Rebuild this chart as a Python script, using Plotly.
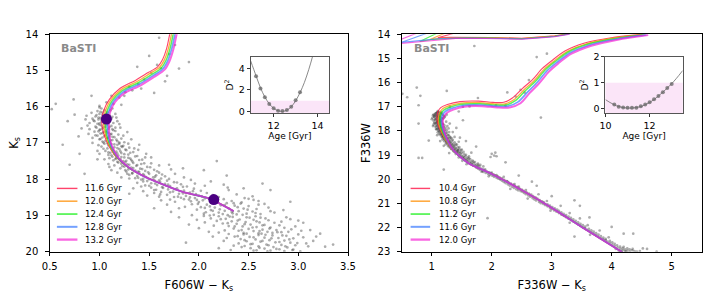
import plotly.graph_objects as go

# ---------------- DATA ----------------
legend_left = ["11.6 Gyr", "12.0 Gyr", "12.4 Gyr", "12.8 Gyr", "13.2 Gyr"]
legend_right = ["10.4 Gyr", "10.8 Gyr", "11.2 Gyr", "11.6 Gyr", "12.0 Gyr"]

# left panel isochrones (F606W-Ks, Ks)
isoL_a_x = [1.71, 1.675, 1.635, 1.585, 1.49, 1.365, 1.205, 1.10, 1.045, 1.025, 1.027, 1.05, 1.095, 1.172, 1.286, 1.42, 1.60, 1.85, 2.10, 2.35]
isoL_a_y = [13.95, 14.40, 14.70, 14.90, 15.06, 15.27, 15.50, 15.80, 16.09, 16.31, 16.55, 16.80, 17.08, 17.40, 17.67, 17.88, 18.10, 18.36, 18.53, 18.88]
isoL_b_x = [1.728, 1.693, 1.653, 1.603, 1.505, 1.378, 1.218, 1.115, 1.063, 1.043, 1.045, 1.063, 1.103, 1.176, 1.288, 1.42, 1.60, 1.85, 2.10, 2.35]
isoL_b_y = [13.95, 14.40, 14.71, 14.92, 15.09, 15.305, 15.53, 15.815, 16.09, 16.31, 16.55, 16.80, 17.08, 17.40, 17.67, 17.88, 18.10, 18.36, 18.53, 18.88]
isoL_c_x = [1.745, 1.71, 1.67, 1.62, 1.52, 1.39, 1.23, 1.13, 1.08, 1.06, 1.062, 1.075, 1.11, 1.18, 1.29, 1.42, 1.60, 1.85, 2.10, 2.35]
isoL_c_y = [13.95, 14.40, 14.72, 14.94, 15.12, 15.34, 15.56, 15.83, 16.09, 16.31, 16.55, 16.80, 17.08, 17.40, 17.67, 17.88, 18.10, 18.36, 18.53, 18.88]
isoL_d_x = [1.763, 1.727, 1.687, 1.637, 1.535, 1.402, 1.242, 1.145, 1.098, 1.078, 1.08, 1.088, 1.118, 1.184, 1.292, 1.42, 1.60, 1.85, 2.10, 2.35]
isoL_d_y = [13.95, 14.40, 14.73, 14.96, 15.15, 15.375, 15.59, 15.845, 16.09, 16.31, 16.55, 16.80, 17.08, 17.40, 17.67, 17.88, 18.10, 18.36, 18.53, 18.88]
isoL_e_x = [1.78, 1.745, 1.705, 1.655, 1.55, 1.415, 1.255, 1.16, 1.115, 1.095, 1.097, 1.10, 1.125, 1.188, 1.294, 1.42, 1.60, 1.85, 2.10, 2.35]
isoL_e_y = [13.95, 14.40, 14.74, 14.98, 15.18, 15.41, 15.62, 15.86, 16.09, 16.31, 16.55, 16.80, 17.08, 17.40, 17.67, 17.88, 18.10, 18.36, 18.53, 18.88]

# right panel isochrones (F336W-Ks, F336W)
isoR_a_x = [4.50, 3.99, 3.55, 3.22, 3.00, 2.84, 2.68, 2.51, 2.35, 2.20, 2.02, 1.78, 1.47, 1.26, 1.15, 1.10, 1.085, 1.10, 1.15, 1.23, 1.34, 1.455, 1.62, 2.00, 2.50, 3.00, 3.55, 4.18]
isoR_a_y = [14.00, 14.15, 14.37, 14.70, 15.10, 15.43, 15.88, 16.25, 16.63, 16.82, 16.82, 16.77, 16.79, 16.91, 17.04, 17.22, 17.46, 17.71, 18.02, 18.38, 18.77, 19.05, 19.35, 19.78, 20.45, 21.18, 22.05, 23.02]
isoR_b_x = [4.52, 4.02, 3.58, 3.25, 3.03, 2.87, 2.71, 2.54, 2.38, 2.22, 2.04, 1.79, 1.49, 1.28, 1.18, 1.13, 1.11, 1.12, 1.165, 1.24, 1.345, 1.458, 1.62, 2.00, 2.50, 3.00, 3.55, 4.18]
isoR_b_y = [14.01, 14.17, 14.40, 14.73, 15.13, 15.46, 15.92, 16.30, 16.69, 16.88, 16.88, 16.83, 16.85, 16.97, 17.09, 17.26, 17.49, 17.74, 18.04, 18.39, 18.78, 19.05, 19.35, 19.78, 20.45, 21.18, 22.05, 23.02]
isoR_c_x = [4.55, 4.04, 3.60, 3.27, 3.05, 2.89, 2.73, 2.56, 2.40, 2.24, 2.05, 1.80, 1.50, 1.30, 1.20, 1.15, 1.135, 1.145, 1.18, 1.25, 1.35, 1.46, 1.62, 2.00, 2.50, 3.00, 3.55, 4.18]
isoR_c_y = [14.02, 14.19, 14.42, 14.75, 15.15, 15.48, 15.95, 16.34, 16.74, 16.93, 16.93, 16.88, 16.90, 17.02, 17.14, 17.30, 17.52, 17.76, 18.05, 18.40, 18.78, 19.05, 19.35, 19.78, 20.45, 21.18, 22.05, 23.02]
isoR_d_x = [4.58, 4.07, 3.63, 3.30, 3.08, 2.92, 2.76, 2.60, 2.44, 2.27, 2.07, 1.82, 1.52, 1.33, 1.23, 1.18, 1.16, 1.17, 1.20, 1.26, 1.355, 1.462, 1.62, 2.00, 2.50, 3.00, 3.55, 4.18]
isoR_d_y = [14.03, 14.21, 14.45, 14.78, 15.18, 15.52, 15.99, 16.39, 16.80, 16.98, 16.98, 16.93, 16.95, 17.07, 17.19, 17.34, 17.55, 17.78, 18.06, 18.41, 18.79, 19.05, 19.35, 19.78, 20.45, 21.18, 22.05, 23.02]
isoR_e_x = [4.61, 4.10, 3.66, 3.33, 3.11, 2.95, 2.79, 2.63, 2.48, 2.30, 2.09, 1.84, 1.54, 1.36, 1.26, 1.21, 1.185, 1.19, 1.215, 1.27, 1.36, 1.465, 1.62, 2.00, 2.50, 3.00, 3.55, 4.18]
isoR_e_y = [14.04, 14.23, 14.48, 14.81, 15.21, 15.56, 16.03, 16.44, 16.86, 17.03, 17.03, 16.98, 17.00, 17.12, 17.24, 17.38, 17.58, 17.80, 18.08, 18.42, 18.80, 19.05, 19.35, 19.78, 20.45, 21.18, 22.05, 23.02]

# right panel: post-RGB branches crossing the top edge
topR_a_x = [1.36, 1.10, 1.30, 1.60, 2.00, 2.50, 2.80, 3.05, 3.30]
topR_a_y = [13.97, 14.15, 14.13, 14.13, 14.14, 14.17, 14.12, 14.07, 13.97]
topR_b_x = [1.21, 0.97, 1.20, 1.60, 2.00, 2.50, 2.80, 3.05, 3.30]
topR_b_y = [13.97, 14.22, 14.16, 14.14, 14.15, 14.18, 14.13, 14.08, 13.97]
topR_c_x = [1.08, 0.80, 1.00, 1.30, 1.60, 2.00, 2.50, 2.80, 3.05, 3.30]
topR_c_y = [13.97, 14.30, 14.22, 14.17, 14.15, 14.16, 14.19, 14.14, 14.09, 13.98]
topR_d_x = [0.91, 0.55, 0.50, 0.80, 1.10, 1.40, 1.70, 2.00, 2.50, 2.80, 3.05, 3.30]
topR_d_y = [13.97, 14.30, 14.34, 14.27, 14.19, 14.16, 14.16, 14.17, 14.20, 14.15, 14.10, 13.99]
topR_e_x = [0.74, 0.48, 0.50, 0.80, 1.10, 1.40, 1.70, 2.00, 2.50, 2.80, 3.05, 3.30]
topR_e_y = [13.97, 14.22, 14.38, 14.31, 14.22, 14.18, 14.17, 14.18, 14.21, 14.16, 14.11, 14.00]

# fiducial points on the left panel
fidL_x = [1.07, 2.15]
fidL_y = [16.34, 18.56]

# stars, left panel
starsL = [
 (1.60,14.10),(1.90,14.77),(1.62,14.94),(1.52,15.07),(1.39,15.38),(1.26,15.60),(0.74,15.80),(0.56,15.92),(0.52,16.07),(0.75,16.22),
 (1.33,15.55),(1.07,15.88),(1.14,15.92),(1.70,14.55),(1.45,15.25),(1.58,14.85),(1.20,15.75),(1.30,15.45),(1.66,15.30),(1.22,15.95),
 (1.55,15.62),(1.00,15.98),(0.92,15.70),(1.12,15.70),(1.76,14.30),
 (1.02,16.05),(1.05,16.10),(0.98,16.12),(1.08,16.15),(1.00,16.20),(1.03,16.22),(1.10,16.24),(0.96,16.27),(1.06,16.29),(1.01,16.31),
 (1.12,16.33),(0.99,16.35),(1.04,16.37),(1.09,16.38),(0.95,16.40),(1.02,16.42),(1.07,16.44),(1.14,16.45),(0.98,16.47),(1.05,16.48),
 (1.00,16.50),(0.93,16.33),(1.16,16.20),(1.11,16.10),(0.90,16.45),(1.18,16.40),(0.87,16.25),(1.20,16.48),(1.03,16.16),(1.08,16.27),
 (1.02,16.52),(1.06,16.55),(1.10,16.56),(0.97,16.58),(1.03,16.60),(1.13,16.62),(1.00,16.64),(1.07,16.66),(1.16,16.67),(0.95,16.69),
 (1.04,16.70),(1.09,16.72),(1.01,16.74),(1.12,16.75),(1.19,16.77),(1.06,16.78),(0.98,16.80),(1.10,16.82),(1.15,16.84),(1.03,16.85),
 (1.08,16.87),(1.22,16.88),(1.00,16.90),(1.13,16.92),(1.06,16.94),(1.18,16.95),(1.10,16.97),(1.25,16.98),(0.93,16.86),(1.28,16.70),
 (0.90,16.62),(1.32,16.90),(1.04,16.99),(1.16,16.58),(0.79,16.82),
 (1.05,17.02),(1.12,17.03),(1.18,17.05),(1.09,17.07),(1.24,17.08),(1.02,17.10),(1.15,17.12),(1.30,17.13),(1.08,17.15),(1.20,17.17),
 (1.13,17.19),(1.27,17.20),(1.06,17.22),(1.17,17.24),(1.34,17.25),(1.11,17.27),(1.22,17.28),(1.15,17.30),(1.29,17.32),(1.09,17.33),
 (1.19,17.35),(1.38,17.36),(1.13,17.38),(1.25,17.40),(1.17,17.42),(1.31,17.43),(1.21,17.45),(1.43,17.46),(1.14,17.48),(1.27,17.49),
 (1.35,17.15),(1.00,17.30),(1.47,17.30),(0.98,17.45),(1.40,17.05),(1.23,17.11),(1.32,17.47),(1.52,17.40),(1.10,17.42),(1.20,17.02),
 (1.18,17.52),(1.26,17.53),(1.34,17.55),(1.22,17.57),(1.42,17.58),(1.30,17.60),(1.15,17.62),(1.37,17.63),(1.25,17.65),(1.48,17.66),
 (1.32,17.68),(1.21,17.70),(1.41,17.71),(1.29,17.73),(1.55,17.74),(1.36,17.76),(1.46,17.77),(1.27,17.79),(1.40,17.80),(1.60,17.82),
 (1.33,17.83),(1.50,17.85),(1.44,17.86),(1.30,17.88),(1.57,17.89),(1.38,17.91),(1.66,17.92),(1.47,17.94),(1.54,17.95),(1.36,17.97),
 (1.62,17.98),(1.70,17.60),(1.12,17.75),(1.76,17.85),(1.22,17.95),(1.09,17.58),(1.52,17.56),(1.44,17.99),(1.84,17.70),(1.28,17.85),
 (1.42,18.01),(1.55,18.02),(1.68,18.04),(1.48,18.05),(1.61,18.07),(1.75,18.08),(1.38,18.10),(1.52,18.11),(1.66,18.13),(1.82,18.14),
 (1.58,18.16),(1.46,18.17),(1.71,18.19),(1.88,18.20),(1.63,18.22),(1.52,18.23),(1.78,18.25),(1.95,18.26),(1.69,18.28),(1.57,18.29),
 (1.85,18.31),(2.02,18.32),(1.74,18.34),(1.62,18.35),(1.91,18.37),(2.08,18.38),(1.80,18.40),(1.97,18.41),(1.68,18.43),(2.14,18.44),
 (1.87,18.46),(2.03,18.47),(1.75,18.49),(2.20,18.49),(1.34,18.25),(2.25,18.15),(1.30,18.40),(2.12,18.06),(1.96,18.12),(1.48,18.45),
 (2.30,18.30),(1.92,18.02),(1.60,18.48),(2.38,18.42),(1.44,18.33),
 (1.82,18.51),(1.96,18.52),(2.10,18.53),(2.25,18.55),(1.90,18.56),(2.04,18.58),(2.18,18.59),(2.33,18.60),(1.76,18.62),(2.00,18.63),
 (2.14,18.65),(2.28,18.66),(2.42,18.67),(1.93,18.69),(2.08,18.70),(2.22,18.72),(2.36,18.73),(2.50,18.74),(1.86,18.76),(2.02,18.77),
 (2.16,18.78),(2.30,18.80),(2.45,18.81),(2.58,18.82),(1.98,18.84),(2.12,18.85),(2.26,18.87),(2.40,18.88),(2.54,18.89),(2.07,18.91),
 (2.20,18.92),(2.34,18.94),(2.48,18.95),(2.62,18.96),(2.15,18.98),(2.29,18.99),(2.43,18.64),(1.68,18.70),(2.70,18.78),(1.72,18.90),
 (2.76,18.92),(2.55,18.57),(1.62,18.58),(2.66,18.68),(2.05,18.95),(2.50,18.54),(2.85,18.85),(1.55,18.80),(2.38,18.97),(2.92,18.62),
 (2.05,19.01),(2.20,19.02),(2.34,19.04),(2.48,19.05),(2.62,19.06),(2.12,19.08),(2.27,19.09),(2.41,19.11),(2.55,19.12),(2.70,19.13),
 (2.18,19.15),(2.33,19.16),(2.47,19.18),(2.61,19.19),(2.76,19.20),(2.24,19.22),(2.38,19.23),(2.52,19.25),(2.66,19.26),(2.81,19.27),
 (2.30,19.29),(2.44,19.30),(2.58,19.32),(2.72,19.33),(2.86,19.34),(2.35,19.36),(2.50,19.37),(2.64,19.39),(2.78,19.40),(2.40,19.42),
 (2.55,19.43),(2.69,19.45),(2.83,19.46),(2.45,19.48),(2.60,19.49),(1.98,19.12),(2.92,19.10),(2.00,19.35),(2.97,19.30),(2.10,19.45),
 (2.90,19.45),(1.90,19.25),(3.05,19.20),(2.57,19.02),(2.74,19.48),(2.26,19.41),(2.15,19.28),(2.88,19.05),(3.12,19.40),(1.80,19.05),
 (2.30,19.51),(2.45,19.52),(2.60,19.54),(2.74,19.55),(2.88,19.56),(2.36,19.58),(2.51,19.59),(2.66,19.61),(2.80,19.62),(2.95,19.63),
 (2.42,19.65),(2.57,19.66),(2.71,19.68),(2.86,19.69),(2.48,19.71),(2.62,19.72),(2.77,19.74),(2.92,19.75),(2.40,19.77),(2.54,19.78),
 (2.68,19.80),(2.83,19.81),(2.97,19.82),(2.46,19.84),(2.60,19.85),(2.75,19.87),(2.89,19.88),(2.52,19.90),(2.66,19.91),(2.81,19.93),
 (2.95,19.94),(2.58,19.96),(2.72,19.97),(2.86,19.98),(2.25,19.70),(3.05,19.60),(2.20,19.90),(3.10,19.85),(3.15,19.70),(2.32,19.95),
 (3.02,19.99),(3.27,19.86),(2.14,19.58),(3.00,19.52),(2.63,19.50),(1.87,19.75),
]
starsL_extra = [
 (1.01,16.14),(1.07,16.19),(0.97,16.23),(1.04,16.26),(1.13,16.28),(0.99,16.30),(1.06,16.34),(1.02,16.36),(0.94,16.38),(1.10,16.40),
 (1.05,16.43),(1.00,16.46),(1.08,16.50),(1.12,16.53),(0.96,16.55),(1.04,16.57),(1.09,16.61),(1.01,16.63),(1.14,16.65),(0.99,16.68),
 (1.07,16.71),(1.03,16.73),(1.11,16.76),(0.96,16.79),(1.05,16.81),(1.13,16.83),(1.08,16.86),(1.01,16.89),(1.17,16.91),(1.11,16.93),
 (1.03,16.96),(1.20,16.99),(1.08,17.01),(1.15,17.04),(0.99,17.06),(1.22,17.09),(1.11,17.11),(1.18,17.14),(1.04,17.16),(1.26,17.18),
 (1.14,17.21),(1.21,17.23),(1.09,17.26),(1.31,17.27),(1.18,17.29),(1.25,17.31),(1.12,17.34),(1.36,17.37),(1.22,17.39),(1.29,17.41),
 (1.16,17.44),(1.40,17.47),(1.24,17.50),(1.33,17.51),(1.19,17.54),(1.45,17.56),(1.28,17.59),(1.38,17.61),(1.23,17.64),(1.51,17.67),
 (1.34,17.69),(1.43,17.72),(1.26,17.75),(1.58,17.78),(1.39,17.79),(1.49,17.81),(1.33,17.84),(1.63,17.87),(1.45,17.90),(1.56,17.93),
 (1.39,17.96),(1.70,17.99),(1.50,18.00),(1.60,18.03),(1.44,18.06),(1.78,18.09),(1.56,18.12),(1.69,18.15),(1.50,18.18),(1.84,18.21),
 (1.64,18.24),(1.76,18.27),(1.55,18.30),(1.94,18.33),(1.71,18.36),(1.84,18.39),(1.61,18.42),(2.00,18.45),(1.79,18.48),(1.91,18.50),
 (2.06,18.53),(1.85,18.55),(1.98,18.57),(2.19,18.60),(1.92,18.61),(2.12,18.64),(2.35,18.66),(1.99,18.68),(2.26,18.71),(2.11,18.75),
 (2.39,18.77),(2.06,18.79),(2.21,18.83),(2.49,18.84),(2.14,18.87),(2.33,18.90),(2.57,18.93),(2.24,18.96),(2.44,18.98),(2.11,19.00),
 (2.31,19.03),(2.51,19.06),(2.67,19.08),(2.22,19.10),(2.39,19.14),(2.58,19.16),(2.83,19.17),(2.29,19.21),(2.46,19.24),(2.64,19.27),
 (2.36,19.30),(2.54,19.33),(2.71,19.36),(2.93,19.38),(2.43,19.40),(2.61,19.43),(2.79,19.46),(2.48,19.50),(2.67,19.53),(2.84,19.55),
 (2.39,19.57),(2.55,19.60),(2.73,19.63),(2.91,19.66),(2.46,19.68),(2.64,19.70),(2.81,19.73),(2.99,19.76),(2.52,19.79),(2.70,19.82),
 (2.87,19.85),(2.43,19.87),(2.61,19.89),(2.78,19.92),(2.94,19.95),(2.55,19.97),(2.69,19.99),(2.35,19.83),(3.08,19.77),(2.28,19.62),
 (3.18,19.58),(2.20,19.47),(3.03,19.42),(2.06,19.19),(3.00,19.14),(1.93,18.99),(2.72,18.88),(1.80,18.80),(2.60,18.70),(1.71,18.56),
 (2.46,18.52),(1.55,18.38),(2.29,18.23),(1.42,18.20),(2.06,18.18),(1.30,17.98),(1.85,17.95),(1.18,17.82),(1.72,17.73),(1.10,17.66),
 (1.60,17.62),(1.05,17.45),(1.46,17.40),(0.98,17.22),(1.39,17.19),(0.93,17.00),(1.29,17.02),(0.89,16.75),(1.24,16.80),(0.88,16.52),
 (1.21,16.58),(0.86,16.35),(1.17,16.30),(0.92,16.17),(1.13,16.05),(1.00,16.02),(0.82,16.60),(0.68,16.40),(0.63,17.05),(0.80,17.30),
 (1.25,15.70),(1.42,15.50),(1.68,15.15),(1.80,14.95),(1.50,14.60),(1.38,14.90),(0.70,17.60),(0.85,17.85),(3.35,19.80),(3.22,19.50),
 (2.64,18.12),(2.28,17.90),(2.18,17.50),(2.54,18.47),(2.45,18.25),(2.05,17.75),(2.72,18.30),(2.60,18.60),
]

# stars, right panel
starsR = [
 (1.10,17.22),(1.14,17.25),(1.07,17.28),(1.12,17.30),(1.17,17.31),(1.05,17.33),(1.09,17.35),(1.13,17.36),(1.20,17.38),(1.08,17.40),
 (1.11,17.42),(1.04,17.43),(1.15,17.45),(1.10,17.46),(1.07,17.48),(1.13,17.50),(1.18,17.51),(1.06,17.53),(1.10,17.55),(1.14,17.56),
 (1.03,17.58),(1.09,17.59),(1.22,17.40),(1.01,17.46),(1.16,17.57),(1.12,17.60),(1.25,17.33),(1.08,17.26),(1.19,17.48),(1.05,17.38),
 (1.08,17.62),(1.12,17.63),(1.16,17.65),(1.05,17.66),(1.10,17.68),(1.14,17.70),(1.19,17.71),(1.07,17.73),(1.11,17.74),(1.15,17.76),
 (1.21,17.77),(1.09,17.79),(1.13,17.80),(1.17,17.82),(1.06,17.83),(1.12,17.85),(1.16,17.86),(1.23,17.88),(1.10,17.89),(1.14,17.91),
 (1.19,17.92),(1.08,17.94),(1.13,17.95),(1.17,17.97),(1.25,17.98),(1.11,17.99),(1.30,17.70),(1.02,17.80),(1.28,17.90),(1.04,17.68),
 (1.13,18.01),(1.17,18.03),(1.21,18.04),(1.10,18.06),(1.15,18.08),(1.19,18.09),(1.24,18.11),(1.12,18.13),(1.17,18.14),(1.21,18.16),
 (1.27,18.18),(1.15,18.19),(1.19,18.21),(1.24,18.23),(1.30,18.24),(1.17,18.26),(1.22,18.28),(1.27,18.29),(1.20,18.31),(1.25,18.33),
 (1.31,18.34),(1.18,18.36),(1.23,18.38),(1.28,18.39),(1.34,18.41),(1.21,18.43),(1.26,18.44),(1.31,18.46),(1.24,18.48),(1.29,18.49),
 (1.26,18.51),(1.31,18.53),(1.36,18.54),(1.23,18.56),(1.29,18.58),(1.34,18.59),(1.39,18.61),(1.27,18.63),(1.32,18.64),(1.37,18.66),
 (1.43,18.68),(1.30,18.69),(1.35,18.71),(1.40,18.73),(1.46,18.74),(1.33,18.76),(1.38,18.78),(1.43,18.79),(1.49,18.81),(1.36,18.83),
 (1.41,18.84),(1.47,18.86),(1.39,18.88),(1.44,18.89),(1.50,18.91),(1.42,18.93),(1.48,18.95),(1.54,18.97),
 (1.45,19.01),(1.50,19.03),(1.56,19.05),(1.48,19.07),(1.54,19.09),(1.60,19.11),(1.52,19.13),(1.58,19.15),(1.64,19.17),(1.55,19.19),
 (1.61,19.21),(1.68,19.23),(1.59,19.25),(1.65,19.27),(1.72,19.29),(1.63,19.31),(1.70,19.33),(1.77,19.35),(1.67,19.37),(1.74,19.39),
 (1.81,19.41),(1.72,19.43),(1.79,19.45),(1.86,19.47),(1.76,19.49),
 (1.74,19.51),(1.81,19.53),(1.77,19.56),(1.85,19.58),(1.80,19.61),(1.88,19.63),(1.84,19.66),(1.92,19.68),(1.86,19.70),(1.96,19.72),
 (1.90,19.74),(1.99,19.76),(1.94,19.78),(2.03,19.80),(1.97,19.82),(2.06,19.84),(2.01,19.86),(2.10,19.88),(2.04,19.90),(2.13,19.92),
 (2.08,19.94),(2.17,19.96),(2.11,19.98),(1.89,19.59),(2.00,19.73),(2.08,19.83),(1.83,19.69),(2.15,19.99),(1.95,19.88),(2.20,19.90),
 (2.14,20.01),(2.21,20.03),(2.17,20.06),(2.25,20.08),(2.20,20.11),(2.28,20.13),(2.23,20.16),(2.32,20.18),(2.27,20.21),(2.36,20.23),
 (2.30,20.26),(2.39,20.28),(2.34,20.31),(2.43,20.33),(2.37,20.36),(2.46,20.38),(2.41,20.41),(2.50,20.43),(2.44,20.46),(2.53,20.48),
 (2.48,20.49),(2.26,20.09),(2.38,20.20),(2.45,20.30),(2.31,20.40),(2.57,20.45),
 (2.51,20.52),(2.58,20.54),(2.54,20.57),(2.62,20.59),(2.57,20.62),(2.66,20.64),(2.61,20.67),(2.69,20.70),(2.64,20.72),(2.73,20.75),
 (2.68,20.78),(2.76,20.80),(2.71,20.83),(2.80,20.86),(2.74,20.88),(2.84,20.91),(2.79,20.94),(2.87,20.96),(2.82,20.99),(2.60,20.80),
 (2.78,20.62),(2.92,20.90),
 (2.86,21.02),(2.93,21.04),(2.89,21.07),(2.97,21.09),(2.93,21.12),(3.01,21.15),(2.97,21.18),(3.05,21.20),(3.00,21.23),(3.09,21.26),
 (3.04,21.29),(3.12,21.31),(3.08,21.34),(3.16,21.37),(3.12,21.40),(3.20,21.43),(3.16,21.46),(3.24,21.48),(3.19,21.49),(2.98,21.30),
 (3.15,21.10),(3.30,21.40),
 (3.21,21.52),(3.28,21.54),(3.24,21.57),(3.32,21.60),(3.28,21.63),(3.36,21.66),(3.32,21.69),(3.40,21.72),(3.36,21.75),(3.44,21.78),
 (3.40,21.81),(3.48,21.84),(3.44,21.87),(3.52,21.90),(3.48,21.93),(3.56,21.96),(3.52,21.99),(3.30,21.80),(3.47,21.62),(3.60,21.90),
 (3.55,22.02),(3.62,22.05),(3.58,22.08),(3.66,22.11),(3.62,22.14),(3.70,22.17),(3.66,22.20),(3.74,22.23),(3.70,22.26),(3.78,22.29),
 (3.74,22.32),(3.82,22.35),(3.78,22.38),(3.86,22.41),(3.82,22.44),(3.90,22.47),(3.86,22.49),(3.64,22.30),(3.80,22.12),(3.95,22.40),
 (3.90,22.52),(3.97,22.55),(3.93,22.58),(4.01,22.61),(3.97,22.64),(4.05,22.67),(4.01,22.70),(4.09,22.73),(4.05,22.76),(4.14,22.79),
 (4.10,22.82),(4.18,22.85),(4.14,22.88),(4.22,22.90),(4.18,22.93),(4.26,22.95),(4.22,22.97),(4.30,22.99),(4.16,22.98),(4.34,22.94),
 (4.26,22.86),(4.38,22.97),(4.12,22.96),(4.30,22.90),(4.20,22.80),(4.42,22.99),(4.07,22.88),(4.24,22.99),(4.35,22.88),(4.47,22.97),
 (1.71,14.49),(2.92,14.81),(0.75,16.21),(0.59,16.61),(0.51,16.47),(0.81,16.55),(1.25,16.35),(0.78,16.94),(1.03,17.33),(0.78,17.70),
 (0.78,19.12),(0.84,19.12),(1.66,18.90),(1.74,18.65),(1.57,18.42),(1.47,18.28),(1.41,17.88),(1.52,17.56),(1.30,17.00),(1.63,16.99),
 (2.23,16.96),(1.77,16.64),(1.93,21.61),(2.23,19.30),(2.45,19.85),(2.67,20.10),(2.75,20.27),(3.00,20.70),(3.38,20.87),(3.47,21.10),
 (3.63,21.58),(4.00,21.97),(3.38,22.37),(4.20,22.25),(4.36,22.25),(4.52,22.86),(4.75,22.99),(4.59,22.88),(2.00,18.95),(2.04,19.02),
 (2.06,18.90),(1.98,19.08),(2.08,19.05),(2.55,16.42),(2.40,16.58),(2.82,17.45),(1.20,19.60),(0.95,18.40),(2.26,16.41),(1.45,17.20),
 (2.75,14.95),(2.62,15.90),(2.48,16.30),(1.52,17.00),(2.07,16.94),(1.35,18.05),(1.45,18.45),(1.38,18.25),
]
starsR_extra = [
 (1.12,17.21),(1.09,17.24),(1.15,17.27),(1.06,17.29),(1.11,17.32),(1.18,17.34),(1.08,17.37),(1.14,17.39),(1.04,17.41),(1.12,17.44),
 (1.17,17.47),(1.08,17.49),(1.13,17.52),(1.05,17.54),(1.11,17.57),(1.16,17.61),(1.09,17.64),(1.13,17.67),(1.07,17.69),(1.18,17.72),
 (1.11,17.75),(1.14,17.78),(1.08,17.81),(1.20,17.84),(1.12,17.87),(1.16,17.90),(1.10,17.93),(1.22,17.96),(1.15,18.00),(1.19,18.02),
 (1.13,18.05),(1.25,18.07),(1.17,18.10),(1.21,18.12),(1.15,18.15),(1.28,18.17),(1.19,18.20),(1.23,18.22),(1.18,18.25),(1.31,18.27),
 (1.22,18.30),(1.27,18.32),(1.21,18.35),(1.35,18.37),(1.25,18.40),(1.30,18.42),(1.24,18.45),(1.38,18.47),(1.28,18.50),(1.33,18.52),
 (1.27,18.55),(1.42,18.57),(1.31,18.60),(1.36,18.62),(1.30,18.65),(1.46,18.67),(1.34,18.70),(1.39,18.72),(1.33,18.75),(1.50,18.77),
 (1.37,18.80),(1.43,18.82),(1.37,18.85),(1.53,18.87),(1.41,18.90),(1.46,18.92),(1.40,18.96),(1.57,18.99),(1.47,19.02),(1.52,19.06),
 (1.45,19.10),(1.62,19.13),(1.53,19.16),(1.57,19.20),(1.51,19.24),(1.69,19.27),(1.60,19.30),(1.66,19.34),(1.58,19.38),(1.77,19.41),
 (1.69,19.44),(1.75,19.48),(1.10,17.18),(1.16,17.23),(1.02,17.36),(1.21,17.44),(1.00,17.52),(1.24,17.62),(1.03,17.75),(1.26,17.80),
 (1.07,17.92),(1.29,18.05),(1.09,18.18),(1.33,18.30),(1.14,18.42),(1.40,18.55),(1.20,18.62),(1.44,18.80),(1.29,18.92),(1.62,19.05),
]

# insets: D^2 versus age
ageL = [11.2, 11.4, 11.6, 11.8, 12.0, 12.2, 12.4, 12.6, 12.8, 13.0, 13.2]
d2L = [3.26, 2.13, 1.33, 0.71, 0.30, 0.09, 0.06, 0.15, 0.44, 1.05, 1.78]
fitL_age = [10.95, 11.2, 11.4, 11.6, 11.8, 12.0, 12.2, 12.4, 12.6, 12.8, 13.0, 13.2, 13.4, 13.6, 13.8]
fitL_d2 = [4.70, 3.30, 2.20, 1.35, 0.72, 0.30, 0.08, 0.02, 0.13, 0.45, 1.00, 1.75, 2.70, 3.90, 5.30]

ageR = [10.4, 10.6, 10.8, 11.0, 11.2, 11.4, 11.6, 11.8, 12.0, 12.2, 12.4, 12.6, 12.8, 13.0]
d2R = [0.15, 0.06, 0.03, 0.02, 0.02, 0.02, 0.08, 0.15, 0.24, 0.35, 0.48, 0.63, 0.79, 0.95]
fitR_age = [10.0, 10.2, 10.4, 10.6, 10.8, 11.0, 11.2, 11.4, 11.6, 11.8, 12.0, 12.2, 12.4, 12.6, 12.8, 13.0, 13.2, 13.5]
fitR_d2 = [0.34, 0.23, 0.14, 0.07, 0.03, 0.01, 0.01, 0.03, 0.07, 0.14, 0.23, 0.34, 0.48, 0.63, 0.79, 0.96, 1.15, 1.47]

# ---------------- STYLE ----------------
W, H = 723, 301
FONT = "DejaVu Sans"
iso_colors = ["rgba(255,20,70,0.8)", "rgba(255,150,20,0.8)", "rgba(20,240,20,0.7)",
              "rgba(70,130,255,0.75)", "rgba(245,20,210,0.65)"]
iso_widths = [1.1, 1.3, 1.5, 1.7, 2.0]
star_color = "rgba(60,60,60,0.42)"


def px2fx(p):
    return p / W


def px2fy(p):
    return 1 - p / H


fig = go.Figure()

allL = starsL + starsL_extra
allR = starsR + starsR_extra
fig.add_trace(go.Scatter(x=[p[0] for p in allL], y=[p[1] for p in allL], mode="markers",
                         marker=dict(size=2.7, color=star_color, line=dict(width=0)),
                         xaxis="x", yaxis="y", showlegend=False, hoverinfo="skip"))
fig.add_trace(go.Scatter(x=[p[0] for p in allR], y=[p[1] for p in allR], mode="markers",
                         marker=dict(size=2.7, color=star_color, line=dict(width=0)),
                         xaxis="x2", yaxis="y2", showlegend=False, hoverinfo="skip"))

isoL = [(isoL_a_x, isoL_a_y), (isoL_b_x, isoL_b_y), (isoL_c_x, isoL_c_y), (isoL_d_x, isoL_d_y), (isoL_e_x, isoL_e_y)]
isoR = [(isoR_a_x, isoR_a_y), (isoR_b_x, isoR_b_y), (isoR_c_x, isoR_c_y), (isoR_d_x, isoR_d_y), (isoR_e_x, isoR_e_y)]
topR = [(topR_a_x, topR_a_y), (topR_b_x, topR_b_y), (topR_c_x, topR_c_y), (topR_d_x, topR_d_y), (topR_e_x, topR_e_y)]

for i in range(5):
    fig.add_trace(go.Scatter(x=isoL[i][0], y=isoL[i][1], mode="lines",
                             line=dict(color=iso_colors[i], width=iso_widths[i], shape="spline", smoothing=0.8),
                             xaxis="x", yaxis="y", showlegend=False, hoverinfo="skip"))
for i in range(5):
    fig.add_trace(go.Scatter(x=isoR[i][0], y=isoR[i][1], mode="lines",
                             line=dict(color=iso_colors[i], width=iso_widths[i], shape="spline", smoothing=0.8),
                             xaxis="x2", yaxis="y2", showlegend=False, hoverinfo="skip"))
    fig.add_trace(go.Scatter(x=topR[i][0], y=topR[i][1], mode="lines",
                             line=dict(color=iso_colors[i], width=1.1, shape="linear"),
                             xaxis="x2", yaxis="y2", showlegend=False, hoverinfo="skip"))

fig.add_trace(go.Scatter(x=fidL_x, y=fidL_y, mode="markers",
                         marker=dict(size=11, color="#4b0082", line=dict(width=0)),
                         xaxis="x", yaxis="y", showlegend=False, hoverinfo="skip"))

# insets
fig.add_trace(go.Scatter(x=fitL_age, y=fitL_d2, mode="lines", line=dict(color="rgba(110,110,110,0.9)", width=0.9, shape="spline"),
                         xaxis="x3", yaxis="y3", showlegend=False, hoverinfo="skip"))
fig.add_trace(go.Scatter(x=ageL, y=d2L, mode="markers", marker=dict(size=4, color="rgba(100,100,100,0.75)"),
                         xaxis="x3", yaxis="y3", showlegend=False, hoverinfo="skip"))
fig.add_trace(go.Scatter(x=fitR_age, y=fitR_d2, mode="lines", line=dict(color="rgba(110,110,110,0.9)", width=0.9, shape="spline"),
                         xaxis="x4", yaxis="y4", showlegend=False, hoverinfo="skip"))
fig.add_trace(go.Scatter(x=ageR, y=d2R, mode="markers", marker=dict(size=4, color="rgba(100,100,100,0.75)"),
                         xaxis="x4", yaxis="y4", showlegend=False, hoverinfo="skip"))

main_ax = dict(showgrid=False, zeroline=False, showline=True, linecolor="black", linewidth=1, mirror=True,
               ticks="outside", ticklen=3.5, tickwidth=0.8, tickcolor="black",
               tickfont=dict(family=FONT, size=10, color="black"))
ins_ax = dict(showgrid=False, zeroline=False, showline=True, linecolor="#555", linewidth=1.3, mirror=True,
              ticks="outside", ticklen=3, tickwidth=0.8, tickcolor="#333",
              tickfont=dict(family=FONT, size=9.5, color="black"))

L_dom_x = [px2fx(42.7), px2fx(347.7)]
R_dom_x = [px2fx(402.7), px2fx(709.3)]
M_dom_y = [px2fy(256), px2fy(29.3)]
IL_dom_x = [px2fx(248.3), px2fx(328.3)]
IR_dom_x = [px2fx(611), px2fx(690)]
I_dom_y = [px2fy(111.7), px2fy(53)]

fig.update_layout(
    width=W, height=H, autosize=False, margin=dict(l=0, r=0, t=0, b=0),
    paper_bgcolor="white", plot_bgcolor="rgba(0,0,0,0)",
    font=dict(family=FONT, color="black"),
    xaxis=dict(main_ax, domain=L_dom_x, range=[0.5, 3.5], dtick=0.5, tick0=0.5, tickformat=".1f", anchor="y",
               ticklabelstandoff=2,
               title=dict(text="F606W − K<sub>s</sub>", font=dict(family=FONT, size=11.5), standoff=9)),
    yaxis=dict(main_ax, domain=M_dom_y, range=[20, 14], dtick=1, anchor="x", ticklabelstandoff=5,
               title=dict(text="K<sub>s</sub>", font=dict(family=FONT, size=11.5), standoff=4)),
    xaxis2=dict(main_ax, domain=R_dom_x, range=[0.5, 5.5], dtick=1, tick0=1, anchor="y2",
                ticklabelstandoff=2,
                title=dict(text="F336W − K<sub>s</sub>", font=dict(family=FONT, size=11.5), standoff=9)),
    yaxis2=dict(main_ax, domain=M_dom_y, range=[23, 14], dtick=1, anchor="x2", ticklabelstandoff=5,
                title=dict(text="F336W", font=dict(family=FONT, size=11.5), standoff=4)),
    xaxis3=dict(ins_ax, domain=IL_dom_x, range=[10.96, 14.52], tickvals=[12, 14], anchor="y3",
                title=dict(text="Age [Gyr]", font=dict(family=FONT, size=9), standoff=2)),
    yaxis3=dict(ins_ax, domain=I_dom_y, range=[-0.15, 5.05], tickvals=[0, 2, 4], anchor="x3",
                title=dict(text="D<sup>2</sup>", font=dict(family=FONT, size=9), standoff=3)),
    xaxis4=dict(ins_ax, domain=IR_dom_x, range=[10.0, 13.5], tickvals=[10, 12], anchor="y4",
                title=dict(text="Age [Gyr]", font=dict(family=FONT, size=9), standoff=2)),
    yaxis4=dict(ins_ax, domain=I_dom_y, range=[-0.19, 2.0], tickvals=[0, 1, 2], anchor="x4",
                title=dict(text="D<sup>2</sup>", font=dict(family=FONT, size=9), standoff=3)),
)

# shaded acceptance band in the insets (D^2 < 1)
fig.add_shape(type="rect", xref="x3 domain", yref="y3", x0=0, x1=1, y0=-0.15, y1=1.0,
              fillcolor="rgba(240,160,230,0.28)", line=dict(width=0), layer="below")
fig.add_shape(type="rect", xref="x4 domain", yref="y4", x0=0, x1=1, y0=-0.19, y1=1.0,
              fillcolor="rgba(240,160,230,0.28)", line=dict(width=0), layer="below")

# BaSTI labels
for xp in (52, 413):
    fig.add_annotation(x=px2fx(xp), y=px2fy(44), xref="paper", yref="paper", text="<b>BaSTI</b>",
                       showarrow=False, xanchor="left", yanchor="middle",
                       font=dict(family=FONT, size=11, color="#8a8a8a"))

# manual legends
rows = [190, 203.3, 216.7, 230, 243.3]
for labels, lx0, lx1, tx in ((legend_left, 50, 71, 77), (legend_right, 411.7, 431.7, 439)):
    for i, lab in enumerate(labels):
        fig.add_shape(type="line", xref="paper", yref="paper",
                      x0=px2fx(lx0), x1=px2fx(lx1), y0=px2fy(rows[i]), y1=px2fy(rows[i]),
                      line=dict(color=iso_colors[i], width=iso_widths[i] + 0.3))
        fig.add_annotation(x=px2fx(tx), y=px2fy(rows[i]), xref="paper", yref="paper", text=lab,
                           showarrow=False, xanchor="left", yanchor="middle",
                           font=dict(family=FONT, size=8.5, color="black"))

fig.write_html("out.html", config={"displayModeBar": False},
               post_script="document.body.style.margin='0';")
